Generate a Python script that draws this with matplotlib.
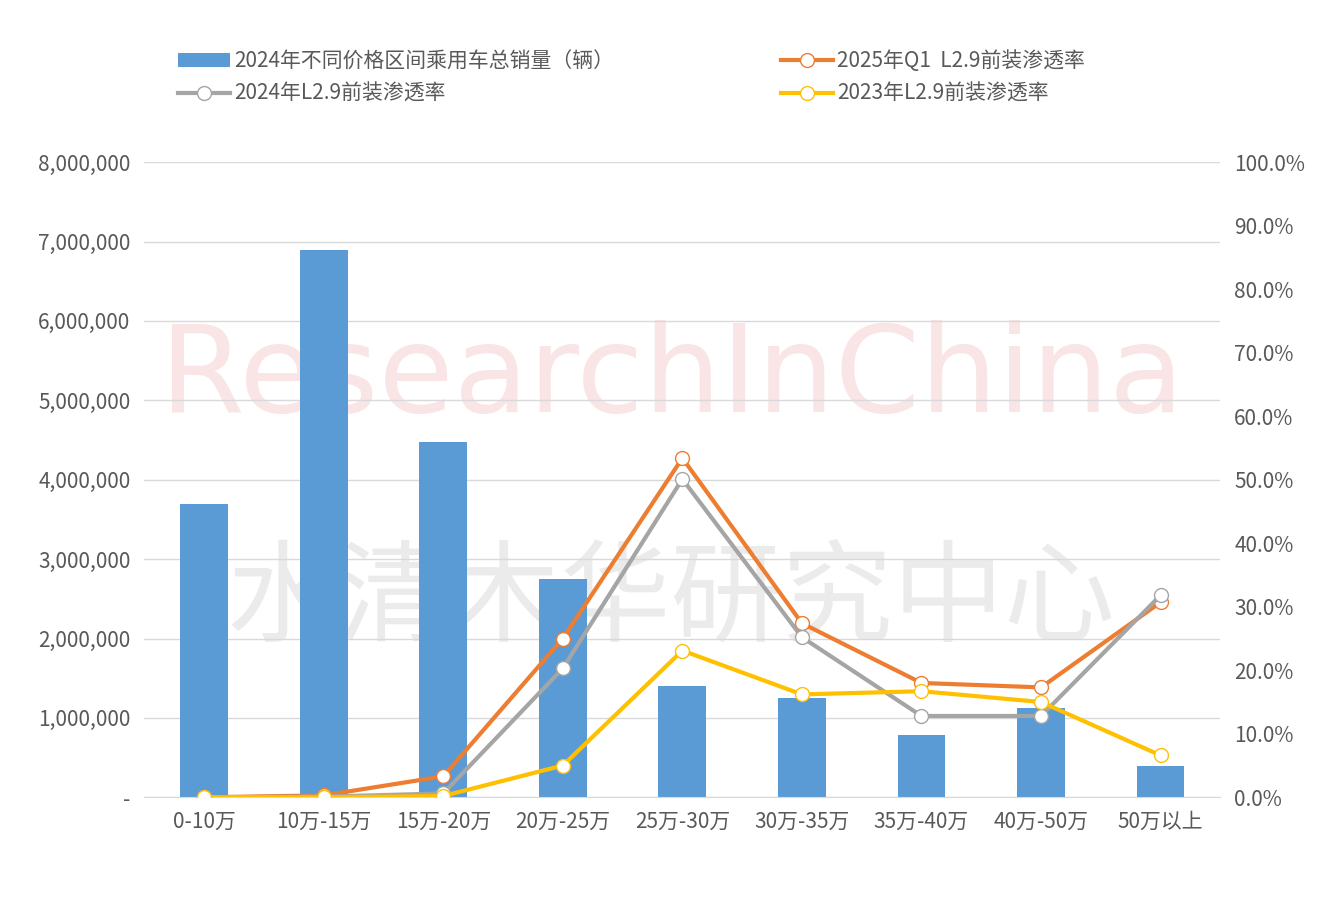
import matplotlib
matplotlib.use("Agg")
import matplotlib.pyplot as plt
from matplotlib.ticker import FuncFormatter

plt.rcParams["font.family"] = ["Noto Sans CJK SC"]

categories = ["0-10万", "10万-15万", "15万-20万", "20万-25万", "25万-30万", "30万-35万", "35万-40万", "40万-50万", "50万以上"]
sales_2024 = [3700000, 6890000, 4480000, 2750000, 1400000, 1250000, 790000, 1130000, 400000]
pen_2025q1 = [0.0, 0.3, 3.3, 25.0, 53.4, 27.4, 18.0, 17.3, 30.7]
pen_2024 = [0.0, 0.1, 0.6, 20.3, 50.1, 25.2, 12.8, 12.8, 31.8]
pen_2023 = [0.0, 0.0, 0.2, 5.0, 23.1, 16.2, 16.7, 15.0, 6.6]

fig = plt.figure(figsize=(13.25, 9.06), dpi=100)
ax = fig.add_axes([0.109, 0.120, 0.812, 0.701])
ax2 = ax.twinx()
x = list(range(len(categories)))
gray = "#595959"

bars = ax.bar(x, sales_2024, width=0.4, color="#5B9BD5", label="2024年不同价格区间乘用车总销量（辆）", zorder=2)
ax.set_ylim(0, 8000000)
ax.set_yticks(range(0, 8000001, 1000000))
ax.yaxis.set_major_formatter(FuncFormatter(lambda v, p: "-" if v == 0 else f"{int(v):,}"))
ax.grid(axis="y", color="#D9D9D9", lw=1, zorder=0)
ax.set_xlim(-0.5, len(categories) - 0.5)
ax.set_xticks(x)
ax.set_xticklabels(categories)

mk = dict(marker="o", markersize=10, markerfacecolor="white", lw=3, zorder=5)
l1, = ax2.plot(x, pen_2025q1, color="#ED7D31", label="2025年Q1  L2.9前装渗透率", **mk)
l2, = ax2.plot(x, pen_2024, color="#A5A5A5", label="2024年L2.9前装渗透率", **mk)
l3, = ax2.plot(x, pen_2023, color="#FFC000", label="2023年L2.9前装渗透率", **mk)
ax2.set_ylim(0, 100)
ax2.set_yticks(range(0, 101, 10))
ax2.yaxis.set_major_formatter(FuncFormatter(lambda v, p: f"{v:.1f}%"))

for a in (ax, ax2):
    for s in a.spines.values():
        s.set_visible(False)
    a.tick_params(length=0, labelsize=15, colors=gray, pad=10)
ax.spines["bottom"].set_visible(True)
ax.spines["bottom"].set_color("#D9D9D9")

ax.text(0.49, 0.66, "ResearchInChina", fontsize=88, color="#F4CCCC", alpha=0.5,
        ha="center", va="center", family="DejaVu Sans",
        transform=ax.transAxes, zorder=1)
ax.text(0.49, 0.31, "水清木华研究中心", fontsize=80, color="#CFCFCF", alpha=0.4,
        ha="center", va="center", transform=ax.transAxes, zorder=1)

handles = [bars, l2, l1, l3]
fig.legend(handles, [h.get_label() for h in handles], loc="upper left",
           bbox_to_anchor=(0.12, 0.965), ncol=2, frameon=False, fontsize=15,
           labelcolor=gray, columnspacing=8, handlelength=2.5, handletextpad=0.2)
fig.savefig("out.png")
